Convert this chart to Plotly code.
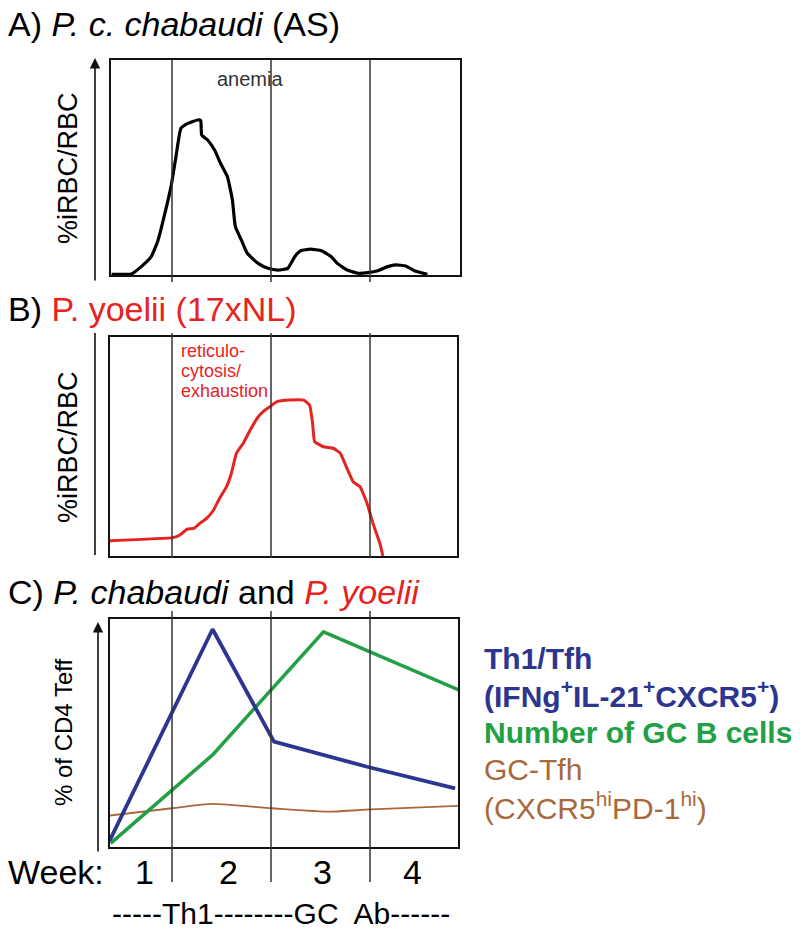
import plotly.graph_objects as go

W, H = 800, 932
FONT = "Liberation Sans, Arial, Helvetica, sans-serif"

# ---------------- data (x in weeks post infection, y in relative units 0-100) -------------
weeks_a = [0.39, 0.59, 0.69, 0.79, 0.86, 0.92, 0.99, 1.04, 1.09, 1.16, 1.26, 1.29, 1.30, 1.36,
           1.43, 1.49, 1.56, 1.61, 1.64, 1.70, 1.76, 1.87, 1.97, 2.07, 2.17, 2.24, 2.30, 2.40,
           2.51, 2.61, 2.67, 2.77, 2.88, 2.98, 3.08, 3.18, 3.26, 3.36, 3.45, 3.58]
parasitemia_a = [0.3, 0.5, 3.9, 8.5, 16.3, 27.1, 41.1, 55.0, 68.2, 70.5, 72.1, 71.8, 65.1, 62.8,
                 58.1, 52.0, 45.7, 34.9, 22.5, 16.3, 10.1, 5.4, 3.1, 2.3, 3.1, 8.5, 11.3, 12.0,
                 11.3, 8.5, 5.4, 2.3, 0.8, 1.1, 2.0, 3.9, 4.7, 4.2, 2.0, 0.3]

weeks_b = [0.37, 1.01, 1.08, 1.15, 1.22, 1.28, 1.35, 1.42, 1.48, 1.55, 1.60, 1.65, 1.72, 1.79,
           1.86, 1.92, 1.99, 2.06, 2.19, 2.33, 2.39, 2.42, 2.44, 2.53, 2.63, 2.70, 2.76, 2.83,
           2.90, 2.97, 3.03, 3.10, 3.13]
parasitemia_b = [7.0, 8.4, 9.6, 12.2, 12.6, 14.9, 17.2, 21.0, 26.3, 31.6, 37.8, 46.9, 51.5, 57.5,
                 62.9, 65.9, 68.2, 70.5, 71.2, 71.2, 68.9, 60.6, 52.2, 49.9, 49.2, 46.9, 40.8, 33.9,
                 31.6, 24.1, 14.9, 5.8, 0.0]

weeks_th1 = [0.37, 1.41, 2.03, 2.97, 3.86]
th1_tfh = [2.8, 95.5, 46.2, 35.2, 25.7]
weeks_gcb = [0.38, 1.41, 2.53, 3.91]
gc_b = [1.6, 40.4, 94.4, 68.6]
weeks_gctfh = [0.33, 1.0, 1.41, 2.01, 2.60, 3.01, 3.94]
gc_tfh = [13.6, 17.0, 18.9, 17.0, 15.5, 16.5, 18.1]

week_boundaries = [1, 2, 3]
week_labels = ["1", "2", "3", "4"]
week_label_pos = [0.72, 1.57, 2.52, 3.43]
phase_label = "-----Th1--------GC  Ab------"
retic_lines = ["reticulo-", "cytosis/", "exhaustion"]

RED = "#e5231f"
BLUE = "#2c3590"
GREEN = "#22a045"
BROWN = "#a8683a"


def px(x):
    return x / W


def py(y):
    return 1 - y / H


def wk(p):
    return 1 + (p - 172) / 99.0


fig = go.Figure()

# panel boxes (pixel): left, right, top, bottom
boxes = {
    "A": (111, 460, 60, 275),
    "B": (110, 457, 337, 556),
    "C": (110, 458, 619, 847),
}
axis_ids = {"A": ("x", "y"), "B": ("x2", "y2"), "C": ("x3", "y3")}

fig.add_trace(go.Scatter(x=weeks_a, y=parasitemia_a, mode="lines", xaxis="x", yaxis="y",
                         line=dict(color="black", width=3.2, shape="spline", smoothing=0.4),
                         showlegend=False, hoverinfo="skip"))
fig.add_trace(go.Scatter(x=weeks_b, y=parasitemia_b, mode="lines", xaxis="x2", yaxis="y2",
                         line=dict(color=RED, width=3, shape="spline", smoothing=0.3),
                         showlegend=False, hoverinfo="skip"))
fig.add_trace(go.Scatter(x=weeks_gctfh, y=gc_tfh, mode="lines", xaxis="x3", yaxis="y3",
                         line=dict(color=BROWN, width=1.8, shape="spline", smoothing=0.6),
                         showlegend=False, hoverinfo="skip"))
fig.add_trace(go.Scatter(x=weeks_gcb, y=gc_b, mode="lines", xaxis="x3", yaxis="y3",
                         line=dict(color=GREEN, width=3.5),
                         showlegend=False, hoverinfo="skip"))
fig.add_trace(go.Scatter(x=weeks_th1, y=th1_tfh, mode="lines", xaxis="x3", yaxis="y3",
                         line=dict(color=BLUE, width=3.8),
                         showlegend=False, hoverinfo="skip"))

layout = dict(
    width=W, height=H, margin=dict(l=0, r=0, t=0, b=0),
    paper_bgcolor="white", plot_bgcolor="white",
    font=dict(family=FONT, color="black"),
    showlegend=False,
)
for k, (l, r, t, b) in boxes.items():
    xa, ya = axis_ids[k]
    xkey = "xaxis" if xa == "x" else "xaxis" + xa[1:]
    ykey = "yaxis" if ya == "y" else "yaxis" + ya[1:]
    layout[xkey] = dict(domain=[px(l), px(r)], range=[wk(l), wk(r)], anchor=ya,
                        showgrid=False, zeroline=False, showticklabels=False, ticks="",
                        showline=True, mirror=True, linecolor="#111", linewidth=1.6,
                        fixedrange=True)
    layout[ykey] = dict(domain=[py(b), py(t)], range=[0, 100], anchor=xa,
                        showgrid=False, zeroline=False, showticklabels=False, ticks="",
                        showline=True, mirror=True, linecolor="#111", linewidth=1.6,
                        fixedrange=True)
fig.update_layout(**layout)

shapes = []
# week boundary lines
vextent = {"A": (60, 282), "B": (333, 558), "C": (611, 882)}
for k, (t, b) in vextent.items():
    xa = axis_ids[k][0]
    for wb in week_boundaries:
        shapes.append(dict(type="line", xref=xa, yref="paper", x0=wb, x1=wb,
                           y0=py(b), y1=py(t), line=dict(color="#333", width=1.5)))
# panel B plain y-axis line
shapes.append(dict(type="line", xref="paper", yref="paper", x0=px(95), x1=px(95),
                   y0=py(555), y1=py(333), line=dict(color="#111", width=1.6)))
fig.update_layout(shapes=shapes)

ann = []
# y-axis arrows for A and C
for (x, ytip, ybot) in [(95, 58, 282), (98, 622, 853)]:
    ann.append(dict(xref="paper", yref="paper", x=px(x), y=py(ytip), ax=0, ay=ybot - ytip,
                    axref="pixel", ayref="pixel", showarrow=True, arrowhead=2, arrowsize=1.3,
                    arrowwidth=1.6, arrowcolor="#111", text=""))


def text(x, y, s, size, color="black", xanchor="left", yanchor="middle", angle=0, align="left"):
    ann.append(dict(xref="paper", yref="paper", x=px(x), y=py(y), text=s, showarrow=False,
                    xanchor=xanchor, yanchor=yanchor, textangle=angle, align=align,
                    font=dict(size=size, color=color, family=FONT)))


# titles
text(6, 24, "A) <i>P. c. chabaudi</i> (AS)", 34)
text(6, 309, "B) <span style='color:%s'>P. yoelii (17xNL)</span>" % RED, 34)
text(6, 592, "C) <i>P. chabaudi</i> and <span style='color:%s'><i>P. yoelii</i></span>" % RED, 34)

# y titles
text(68, 168, "%iRBC/RBC", 27, xanchor="center", angle=-90)
text(68, 447, "%iRBC/RBC", 27, xanchor="center", angle=-90)
text(63, 732, "% of CD4 Teff", 24, xanchor="center", angle=-90)

# in-plot annotations
text(250, 79, "anemia", 20, color="#333", xanchor="center")
for i, ln in enumerate(retic_lines):
    text(179, 351 + 20 * i, ln, 18, color=RED)

# legend text for panel C
text(482, 658, "<b>Th1/Tfh</b>", 30, color=BLUE)
text(482, 694, "<b>(IFNg<sup>+</sup>IL-21<sup>+</sup>CXCR5<sup>+</sup>)</b>", 30, color=BLUE)
text(482, 732, "<b>Number of GC B cells</b>", 30, color=GREEN)
text(482, 769, "GC-Tfh", 30, color=BROWN)
text(482, 806, "(CXCR5<sup>hi</sup>PD-1<sup>hi</sup>)", 30, color=BROWN)

# week axis labels
text(6, 872, "Week:", 34)
for lab, pos in zip(week_labels, week_label_pos):
    ann.append(dict(xref="x3", yref="paper", x=pos, y=py(872), text=lab, showarrow=False,
                    xanchor="center", yanchor="middle", font=dict(size=34, family=FONT)))
text(110, 913, phase_label, 30)

fig.update_layout(annotations=ann)
fig.write_html("out.html", config={"displayModeBar": False, "staticPlot": True},
               post_script="document.body.style.margin='0';document.body.style.padding='0';")
